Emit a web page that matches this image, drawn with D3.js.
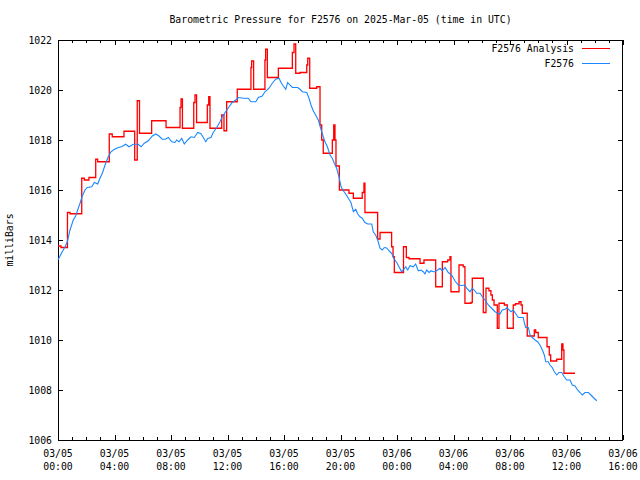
<!DOCTYPE html>
<html><head><meta charset="utf-8">
<script src="https://cdn.jsdelivr.net/npm/d3@7"></script>
<style>
body{margin:0;background:#fff}
svg{display:block}
text{font-family:"DejaVu Sans Mono","Liberation Mono",monospace;font-size:9.8px;fill:#000}
</style>
</head><body>
<svg id="c" width="640" height="480"></svg>
<script>
// ---- data ----
const titleText = "Barometric Pressure for F2576 on 2025-Mar-05 (time in UTC)";
const seriesNames = ["F2576 Analysis", "F2576"];
const startUTC = Date.UTC(2025, 2, 5, 0, 0);
const endUTC = Date.UTC(2025, 2, 6, 16, 0);

// hours since 03/05 00:00 UTC
const analysisHours = [0,0.21,0.67,0.85,1.68,1.86,2.19,2.67,2.81,3.63,
3.84,4.67,5.43,5.61,5.77,6.63,7.65,8.64,8.71,8.81,
9.61,9.70,9.81,10.57,10.67,10.76,11.59,11.75,11.94,12.69,
13.66,13.71,13.85,14.65,14.70,14.82,15.60,16.59,16.71,16.83,
17.13,17.61,17.68,17.82,18.32,18.55,18.67,18.78,19.42,19.52,
19.61,19.68,19.92,20.60,20.91,21.54,21.66,21.73,22.63,22.80,
23.62,23.72,23.81,24.46,24.66,24.85,25.63,25.91,26.74,27.21,
27.59,27.75,27.82,28.39,28.69,28.81,29.24,29.33,30.11,30.30,
30.51,30.65,30.75,30.87,31.10,31.22,31.60,31.81,32.23,32.39,
32.64,32.78,32.87,33.22,33.72,33.82,34.00,34.62,34.78,34.88,
35.31,35.66,35.75,35.82,36.60];
const analysisValues = [1013.76,1013.7,1015.1,1015.05,1016.47,1016.4,1016.5,1017.23,1017.13,1018.24,
1018.13,1018.35,1017.2,1019.57,1018.27,1018.77,1018.5,1019.3,1019.64,1018.47,
1019.5,1019.8,1018.7,1019.4,1019.73,1018.47,1019.0,1018.37,1019.53,1020.03,
1020.9,1021.16,1020.03,1021.2,1021.63,1020.5,1020.87,1021.5,1021.84,1020.67,
1020.7,1021.0,1021.27,1020.07,1020.13,1018.6,1018.0,1017.47,1018.0,1018.6,
1018.0,1016.96,1016.0,1015.87,1015.67,1015.9,1016.27,1015.1,1014.04,1014.3,
1013.73,1013.33,1012.7,1013.73,1013.3,1013.25,1013.07,1013.2,1012.13,1013.13,
1013.2,1013.33,1011.93,1013.0,1012.93,1011.47,1011.5,1012.47,1011.1,1012.07,
1011.97,1011.8,1011.6,1011.4,1010.47,1011.47,1011.4,1010.47,1011.4,1011.45,
1011.53,1011.4,1011.07,1010.16,1010.4,1010.3,1010.1,1009.73,1009.4,1009.16,
1009.23,1009.84,1009.6,1008.67,1008.67];

const obsHours = [0,0.30,0.50,0.66,0.85,1.08,1.25,1.39,1.56,1.72,
1.91,2.07,2.39,2.57,2.81,2.97,3.14,3.33,3.56,3.75,
3.99,4.27,4.51,4.79,5.03,5.33,5.68,5.88,6.11,6.39,
6.68,6.92,7.15,7.38,7.6,7.81,8.05,8.28,8.40,8.57,
8.76,8.94,9.18,9.42,9.65,9.89,10.12,10.29,10.46,10.60,
10.83,10.99,11.24,11.47,11.63,11.87,12.11,12.34,12.58,12.76,
13.12,13.47,13.66,14.0,14.18,14.46,14.65,14.94,15.17,15.41,
15.65,15.79,15.95,16.12,16.26,16.42,16.59,16.97,17.13,17.30,
17.61,17.77,17.91,18.07,18.24,18.43,18.55,18.67,18.78,18.90,
19.07,19.26,19.42,19.56,19.73,19.89,20.04,20.20,20.37,20.55,
20.74,20.91,21.08,21.22,21.38,21.54,21.73,21.93,22.21,22.32,
22.49,22.63,22.80,22.96,23.10,23.27,23.50,23.62,23.81,23.98,
24.14,24.33,24.45,24.62,24.76,24.92,25.15,25.32,25.51,25.70,
25.86,25.98,26.10,26.27,26.41,26.57,26.69,26.88,27.04,27.21,
27.40,27.63,27.87,28.11,28.34,28.58,28.81,28.93,29.17,29.33,
29.47,29.64,29.88,30.04,30.23,30.46,30.65,30.82,30.94,31.13,
31.29,31.45,31.65,31.81,31.93,32.07,32.23,32.35,32.47,32.59,
32.94,33.01,33.11,33.30,33.42,33.58,33.77,33.96,34.12,34.29,
34.43,34.53,34.71,34.83,34.99,35.14,35.31,35.47,35.66,35.84,
36.01,36.25,36.41,36.60,36.79,36.96,37.12,37.31,37.55,37.73,
37.90,38.14];
const obsValues = [1013.2,1013.53,1013.73,1013.93,1014.4,1014.8,1014.96,1015.2,1015.47,1015.76,
1016.0,1016.1,1016.13,1016.3,1016.24,1016.47,1016.67,1017.0,1017.33,1017.53,
1017.63,1017.7,1017.73,1017.83,1017.73,1017.83,1017.83,1017.73,1017.87,1017.97,
1018.16,1018.24,1018.16,1018.03,1018.03,1018.1,1017.93,1017.9,1018.0,1017.93,
1018.07,1017.84,1018.0,1018.13,1018.1,1018.3,1018.25,1018.1,1017.93,1018.06,
1018.1,1018.3,1018.5,1018.73,1018.93,1019.13,1019.33,1019.5,1019.6,1019.7,
1019.67,1019.67,1019.53,1019.53,1019.7,1019.76,1019.93,1020.07,1020.27,1020.43,
1020.47,1020.3,1020.16,1020.03,1020.3,1020.2,1020.1,1020.1,1020.03,1019.93,
1019.9,1019.67,1019.4,1019.17,1019.0,1018.8,1018.56,1018.33,1018.13,1017.93,
1017.73,1017.4,1017.27,1017.07,1016.87,1016.53,1016.13,1015.97,1015.84,1015.67,
1015.5,1015.13,1015.23,1015.04,1014.93,1014.87,1014.7,1014.64,1014.64,1014.33,
1014.2,1014.0,1013.67,1013.6,1013.7,1013.68,1013.53,1013.47,1013.23,1013.1,
1012.93,1012.73,1012.8,1012.93,1012.8,1012.97,1012.93,1013.04,1012.77,1012.8,
1012.73,1012.64,1012.8,1012.7,1012.77,1012.73,1012.73,1012.8,1012.87,1012.77,
1012.9,1012.7,1012.6,1012.36,1012.2,1012.18,1012.2,1012.07,1011.93,1012.07,
1012.0,1011.87,1011.87,1011.73,1011.6,1011.4,1011.3,1011.2,1011.13,1011.07,
1011.04,1011.2,1011.23,1011.3,1011.2,1011.13,1011.2,1011.1,1011.0,1010.9,
1010.9,1010.7,1010.5,1010.5,1010.2,1010.1,1010.0,1009.93,1009.8,1009.6,
1009.4,1009.13,1009.13,1009.0,1008.9,1008.73,1008.6,1008.7,1008.7,1008.53,
1008.4,1008.4,1008.2,1008.16,1008.0,1007.9,1007.8,1007.9,1007.9,1007.8,
1007.7,1007.57];

const yTicks = [1006,1008,1010,1012,1014,1016,1018,1020,1022];
const xMajorHours = [0,4,8,12,16,20,24,28,32,36,40];
const yLabel = "milliBars";

// ---- chart ----
const W = 640, H = 480;
const m = {l: 58, r: 17, t: 40, b: 40};
const svg = d3.select("#c");
const toDate = h => new Date(startUTC + h * 3600e3);

const x = d3.scaleUtc().domain([new Date(startUTC), new Date(endUTC)]).range([m.l, W - m.r]);
const y = d3.scaleLinear().domain([1006, 1022]).range([H - m.b, m.t]);

const majorDates = xMajorHours.map(toDate);
const minorDates = d3.utcHour.every(1).range(new Date(startUTC), new Date(endUTC + 1));

const pw = W - m.r - m.l, ph = H - m.b - m.t;

function tickAxis(g, axis) {
  g.call(axis);
  g.select(".domain").remove();
  g.selectAll("line").attr("stroke", "#000").attr("shape-rendering", "crispEdges");
}

// bottom/top minor ticks
svg.append("g").attr("transform", `translate(0,${H - m.b})`)
  .call(g => tickAxis(g, d3.axisBottom(x).tickValues(minorDates).tickSize(-3).tickFormat("")));
svg.append("g").attr("transform", `translate(0,${m.t})`)
  .call(g => tickAxis(g, d3.axisTop(x).tickValues(minorDates).tickSize(-3).tickFormat("")));
// bottom/top major ticks
svg.append("g").attr("transform", `translate(0,${H - m.b})`)
  .call(g => tickAxis(g, d3.axisBottom(x).tickValues(majorDates).tickSize(-5).tickFormat("")));
svg.append("g").attr("transform", `translate(0,${m.t})`)
  .call(g => tickAxis(g, d3.axisTop(x).tickValues(majorDates).tickSize(-5).tickFormat("")));

const fmtDate = d3.utcFormat("%m/%d"), fmtTime = d3.utcFormat("%H:%M");
const xl = svg.append("g");
majorDates.forEach(d => {
  const t = xl.append("text").attr("x", x(d)).attr("text-anchor", "middle");
  t.append("tspan").attr("x", x(d)).attr("y", 457).text(fmtDate(d));
  t.append("tspan").attr("x", x(d)).attr("y", 470).text(fmtTime(d));
});

// left/right ticks
svg.append("g").attr("transform", `translate(${m.l},0)`)
  .call(g => {
    tickAxis(g, d3.axisLeft(y).tickValues(yTicks).tickSize(-5).tickPadding(6).tickFormat(d3.format("d")));
    g.selectAll("text").attr("font-family", null).attr("font-size", null).attr("fill", "#000");
  });
svg.append("g").attr("transform", `translate(${W - m.r},0)`)
  .call(g => tickAxis(g, d3.axisRight(y).tickValues(yTicks).tickSize(-5).tickFormat("")));

// border
svg.append("rect").attr("x", m.l + 0.5).attr("y", m.t + 0.5)
  .attr("width", pw - 1).attr("height", ph).attr("fill", "none")
  .attr("stroke", "#000").attr("stroke-width", 1).attr("shape-rendering", "crispEdges");

// title and y label
svg.append("text").attr("x", (m.l + W - m.r) / 2).attr("y", 23).attr("text-anchor", "middle").text(titleText);
svg.append("text").attr("transform", `translate(13,${m.t + ph / 2}) rotate(-90)`)
  .attr("text-anchor", "middle").text(yLabel);

// series
const analysis = analysisHours.map((h, i) => [toDate(h), analysisValues[i]]);
const obs = obsHours.map((h, i) => [toDate(h), obsValues[i]]);

const redLine = d3.line().x(d => x(d[0])).y(d => y(d[1])).curve(d3.curveStepAfter);
const blueLine = d3.line().x(d => x(d[0])).y(d => y(d[1]));

const colors = ["#ff0000", "#1a88ff"];

svg.append("path").datum(analysis).attr("d", redLine)
  .attr("fill", "none").attr("stroke", colors[0]).attr("stroke-width", 1.3);
svg.append("path").datum(obs).attr("d", blueLine)
  .attr("fill", "none").attr("stroke", colors[1]).attr("stroke-width", 1.1);

// legend
const leg = svg.append("g");
seriesNames.forEach((n, i) => {
  const yy = 48 + i * 15;
  leg.append("text").attr("x", 574).attr("y", yy + 4).attr("text-anchor", "end").text(n);
  leg.append("line").attr("x1", 582).attr("x2", 610).attr("y1", yy + 0.5).attr("y2", yy + 0.5)
    .attr("stroke", colors[i]).attr("stroke-width", 1).attr("shape-rendering", "crispEdges");
});
</script>
</body></html>
